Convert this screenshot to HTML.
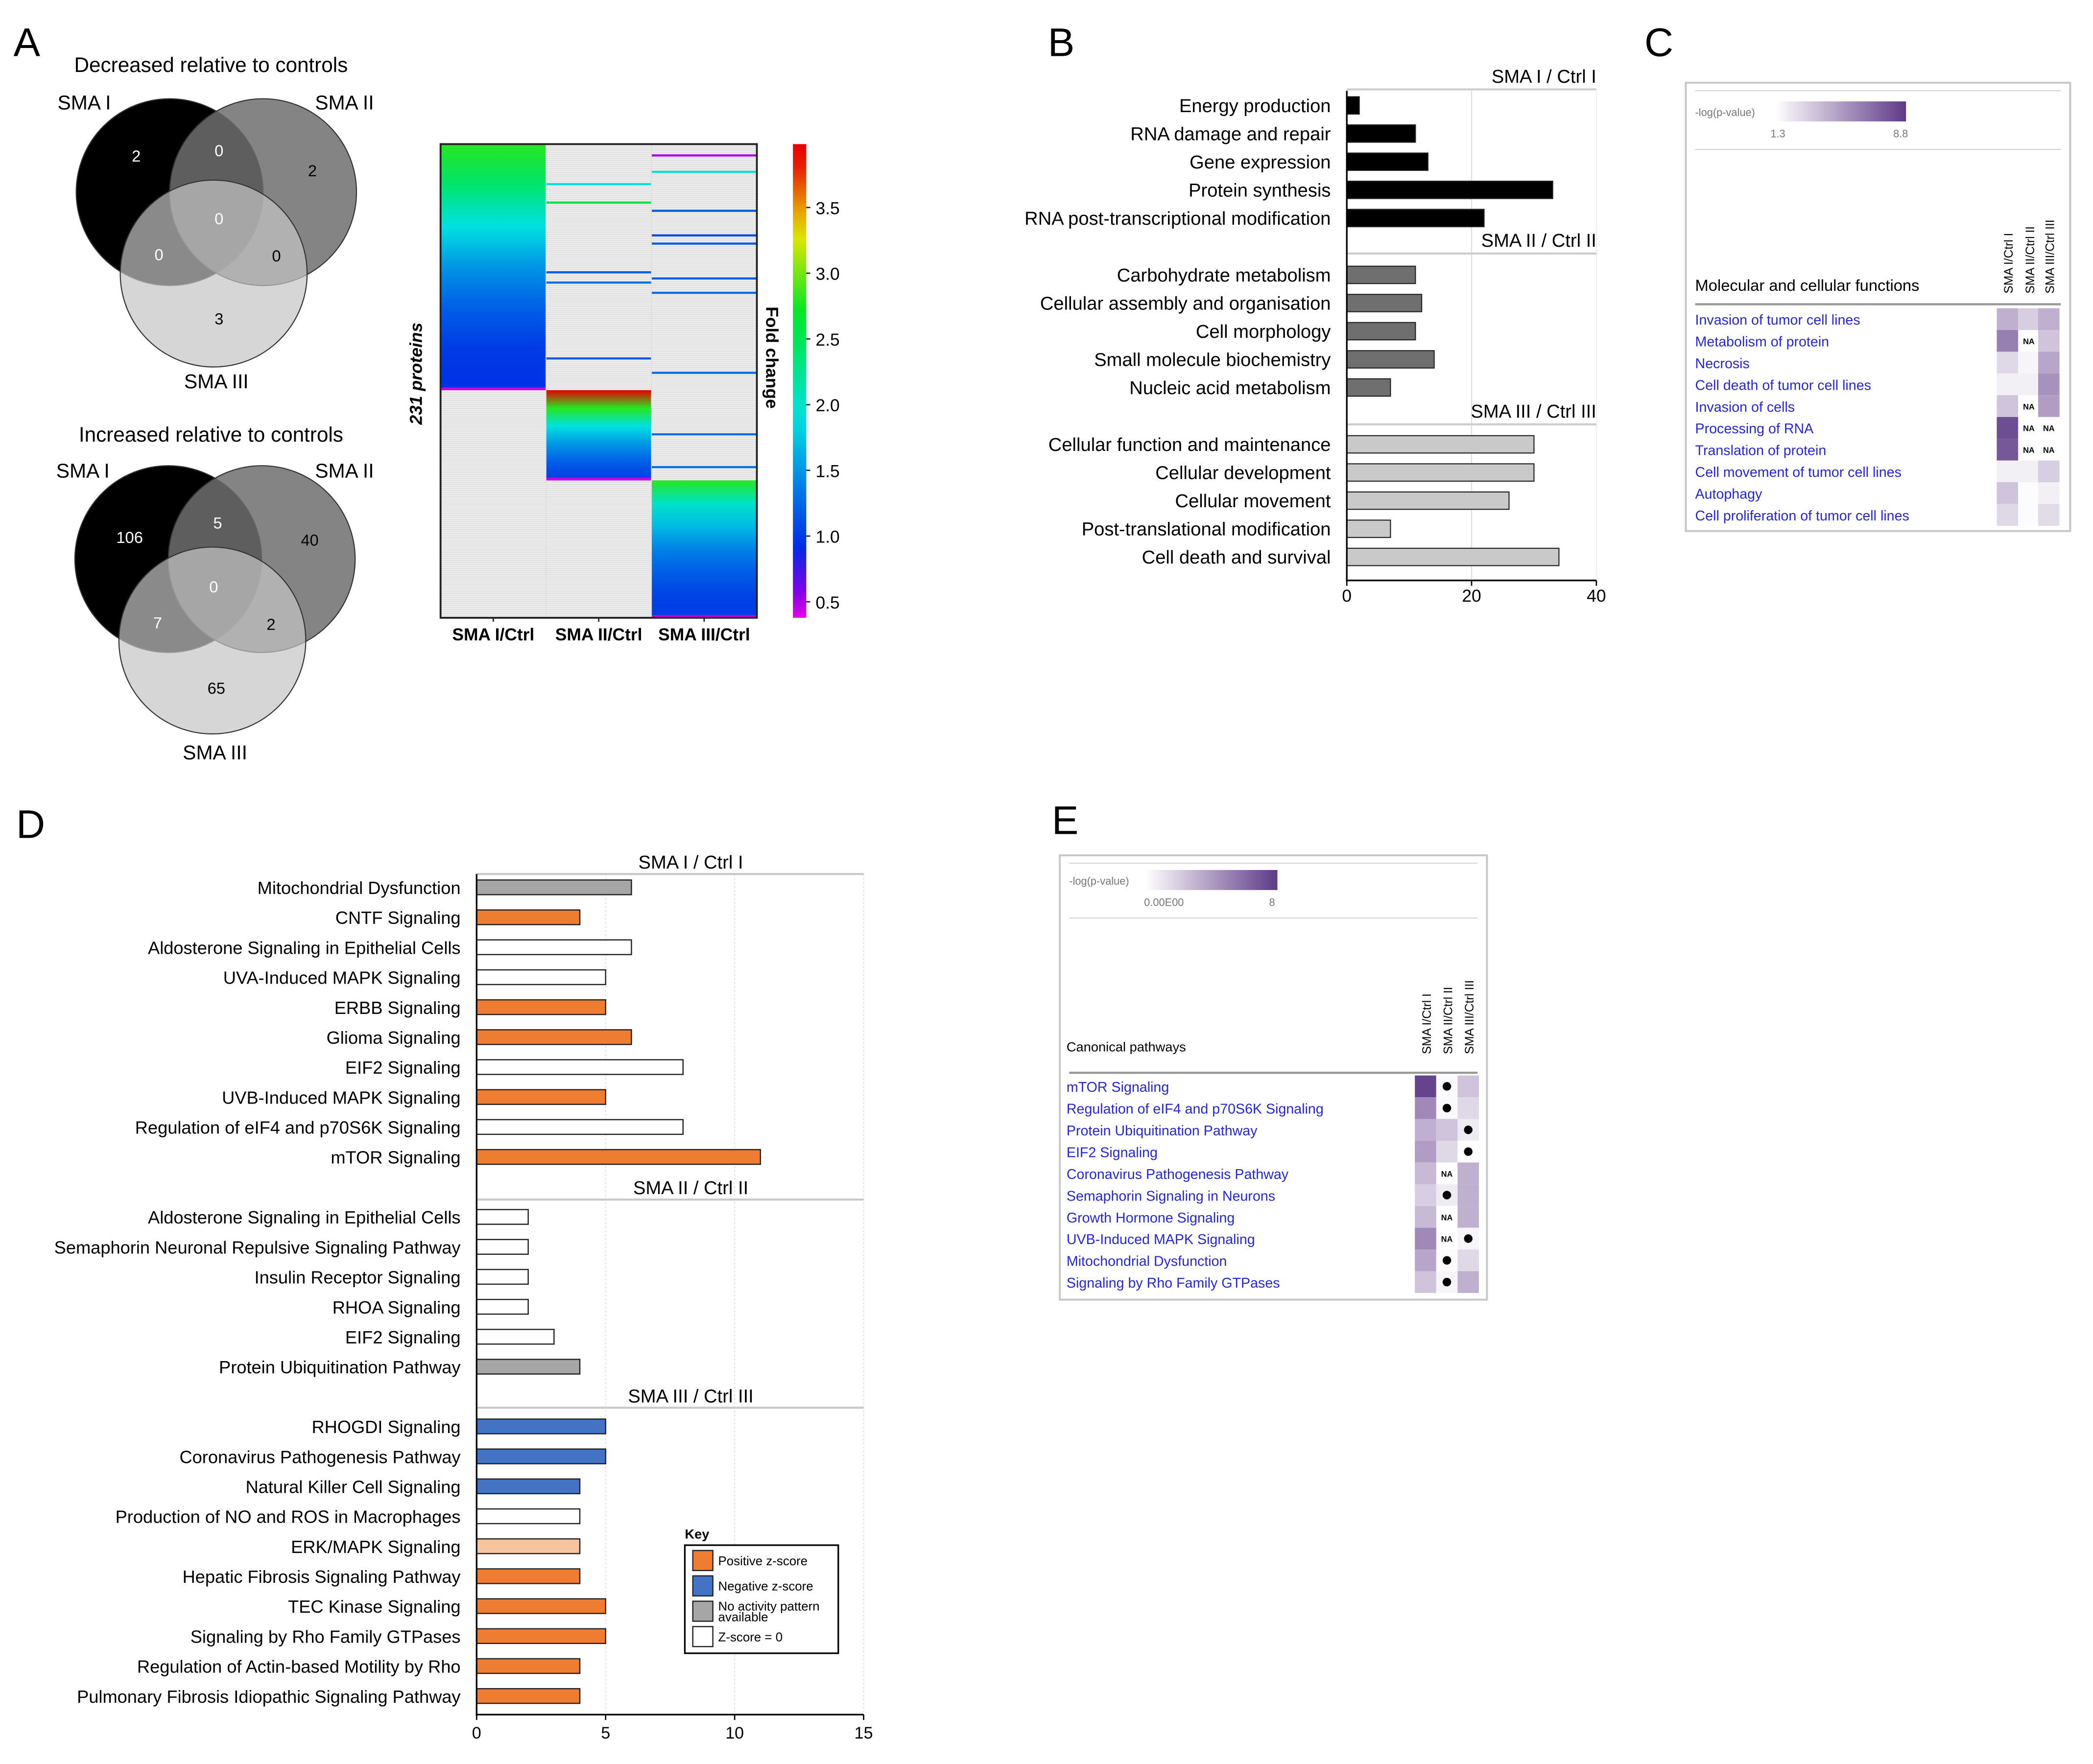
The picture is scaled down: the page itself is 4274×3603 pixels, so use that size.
<!DOCTYPE html>
<html><head><meta charset="utf-8">
<style>
html,body{margin:0;padding:0;background:#fff;}
svg{display:block;font-family:"Liberation Sans",Arial,sans-serif;}
</style></head>
<body>
<svg id="fig" width="4274" height="3603" viewBox="0 0 1568 1322" xmlns="http://www.w3.org/2000/svg">
<defs>
<linearGradient id="purpC" x1="0" x2="1" y1="0" y2="0"><stop offset="0" stop-color="#ffffff"/><stop offset="1" stop-color="#5e3a87"/></linearGradient>
</defs>
<g id="root"></g>
</svg>
<script>
// ---------- DATA ----------
// Panel A venn
const vennDecLabels = ["2","0","2","0","0","0","3"];
const vennIncLabels = ["106","5","40","0","7","2","65"];
// Panel A heatmap: colored blocks [column, startRow, endRow] with fold-change stops
const heatRows = 231;
const heatBlockCols = [0, 1, 2];
const heatBlockStart = [0, 120, 164];
const heatBlockEnd = [120, 164, 231];
const heatBlockStops = [[2.8, 2.4, 1.9, 1.5, 1.2, 1.0, 0.95], [3.9, 2.8, 1.9, 1.5, 1.2, 1.0], [2.8, 2.0, 1.7, 1.4, 1.2, 1.05, 1.0]];
// scattered single rows [column,row,value]
const heatLineCol = [1,1,1,1,1, 2,2,2,2,2,2,2,2,2,2];
const heatLineRow = [19,28,62,67,104, 5,13,32,44,48,65,72,111,141,157];
const heatLineVal = [1.9,2.6,1.2,1.3,1.2, 0.5,2.0,1.2,1.1,1.2,1.2,1.3,1.3,1.3,1.3];
const cbTicks = [0.5,1.0,1.5,2.0,2.5,3.0,3.5];
// Panel B
const bCats = [["Energy production","RNA damage and repair","Gene expression","Protein synthesis","RNA post-transcriptional modification"],
 ["Carbohydrate metabolism","Cellular assembly and organisation","Cell morphology","Small molecule biochemistry","Nucleic acid metabolism"],
 ["Cellular function and maintenance","Cellular development","Cellular movement","Post-translational modification","Cell death and survival"]];
const bVals1 = [2,11,13,33,22];
const bVals2 = [11,12,11,14,7];
const bVals3 = [30,30,26,7,34];
const bGroups = ["SMA I / Ctrl I","SMA II / Ctrl II","SMA III / Ctrl III"];
const bTicks = [0,20,40];
// Panel C
const cRows = ["Invasion of tumor cell lines","Metabolism of protein","Necrosis","Cell death of tumor cell lines","Invasion of cells","Processing of RNA","Translation of protein","Cell movement of tumor cell lines","Autophagy","Cell proliferation of tumor cell lines"];
const cCol1 = [0.4,0.65,0.2,0.08,0.3,0.9,0.85,0.08,0.3,0.2];
const cCol2 = [0.25,"NA",0.05,0.08,"NA","NA","NA",0.08,0.02,0.02];
const cCol3 = [0.4,0.3,0.45,0.55,0.5,"NA","NA",0.25,0.08,0.18];
const cHeads = ["SMA I/Ctrl I","SMA II/Ctrl II","SMA III/Ctrl III"];
// Panel D
const dCats1 = ["Mitochondrial Dysfunction","CNTF Signaling","Aldosterone Signaling in Epithelial Cells","UVA-Induced MAPK Signaling","ERBB Signaling","Glioma Signaling","EIF2 Signaling","UVB-Induced MAPK Signaling","Regulation of eIF4 and p70S6K Signaling","mTOR Signaling"];
const dVals1 = [6,4,6,5,5,6,8,5,8,11];
const dType1 = ["g","o","w","w","o","o","w","o","w","o"];
const dCats2 = ["Aldosterone Signaling in Epithelial Cells","Semaphorin Neuronal Repulsive Signaling Pathway","Insulin Receptor Signaling","RHOA Signaling","EIF2 Signaling","Protein Ubiquitination Pathway"];
const dVals2 = [2,2,2,2,3,4];
const dType2 = ["w","w","w","w","w","g"];
const dCats3 = ["RHOGDI Signaling","Coronavirus Pathogenesis Pathway","Natural Killer Cell Signaling","Production of NO and ROS in Macrophages","ERK/MAPK Signaling","Hepatic Fibrosis Signaling Pathway","TEC Kinase Signaling","Signaling by Rho Family GTPases","Regulation of Actin-based Motility by Rho","Pulmonary Fibrosis Idiopathic Signaling Pathway"];
const dVals3 = [5,5,4,4,4,4,5,5,4,4];
const dType3 = ["b","b","b","w","lo","o","o","o","o","o"];
const dTicks = [0,5,10,15];
// Panel E
const eRows = ["mTOR Signaling","Regulation of eIF4 and p70S6K Signaling","Protein Ubiquitination Pathway","EIF2 Signaling","Coronavirus Pathogenesis Pathway","Semaphorin Signaling in Neurons","Growth Hormone Signaling","UVB-Induced MAPK Signaling","Mitochondrial Dysfunction","Signaling by Rho Family GTPases"];
const eCol1 = [0.95,0.6,0.4,0.5,0.35,0.25,0.35,0.6,0.45,0.3];
const eCol2 = ["d0.03","d0.03",0.3,0.2,"NA","d0.1","NA","NA","d0.02","d0.05"];
const eCol3 = [0.3,0.2,"d0.1","d0",0.4,0.4,0.4,"d0.05",0.2,0.4];

// ---------- HELPERS ----------
const NS="http://www.w3.org/2000/svg";
const root=document.getElementById('root');
function el(tag,attrs,parent,text){const e=document.createElementNS(NS,tag);for(const k in attrs)e.setAttribute(k,attrs[k]);if(text!==undefined)e.textContent=text;(parent||root).appendChild(e);return e;}
function grp(name,parent){const g=el('g',{},parent);


return g;}
function txt(parent,x,y,s,size,opts,name){const a=Object.assign({x:x,y:y,'font-size':size,fill:'#000'},opts||{});const t=el('text',a,parent,s);


return t;}

function fcColor(v){
 const stops=[[0.4,[230,0,230]],[0.55,[140,0,230]],[0.9,[0,40,230]],[1.4,[0,130,230]],[1.9,[0,225,225]],[2.7,[0,230,40]],[3.3,[230,230,0]],[3.9,[230,0,0]]];
 if(v<=stops[0][0])return 'rgb('+stops[0][1]+')';
 for(let i=1;i<stops.length;i++){if(v<=stops[i][0]){const t=(v-stops[i-1][0])/(stops[i][0]-stops[i-1][0]);const a=stops[i-1][1],b=stops[i][1];return 'rgb('+a.map((c,j)=>Math.round(c+(b[j]-c)*t)).join(',')+')';}}
 return 'rgb('+stops[stops.length-1][1]+')';
}
function purp(v){const a=[255,255,255],b=[94,58,135];return 'rgb('+a.map((c,j)=>Math.round(c+(b[j]-c)*v)).join(',')+')';}

[["A",10,42],["B",785,42],["C",1232,42],["D",12,628],["E",788,625]].forEach(p=>{txt(root,p[1],p[2],p[0],30,{},'panel-letter-'+p[0].toLowerCase());});

// ---------- PANEL A: Venn ----------
function venn(name,title,ty,circ,labels,names,nums){
 const g=grp(name);
 txt(g,158,ty,title,15.5,{'text-anchor':'middle'},'venn-title');
 const fills=['#000','#6e6e6e','#c4c4c4'];
 const ops=[1,0.85,0.7];
 circ.forEach((c,i)=>{const ci=el('circle',{cx:c[0],cy:c[1],r:c[2],fill:fills[i],'fill-opacity':ops[i],stroke:'#333','stroke-width':0.8},g);
 
 });
 names.forEach(n=>txt(g,n[0],n[1],n[2],15,{'text-anchor':'middle'},'venn-set-label'));
 nums.forEach((p,i)=>txt(g,p[0],p[1],labels[i],12,{'text-anchor':'middle',fill:(i==6||i==2||i==5?'#000':'#fff')},'venn-count'));
}
venn('venn-decreased','Decreased relative to controls',54,[[127,144,70],[197,144,70],[160,205,70]],vennDecLabels,
 [[63,82,'SMA I'],[258,82,'SMA II'],[162,291,'SMA III']],
 [[102,121],[164,117],[234,132],[164,168],[119,195],[207,196],[164,243]]);
venn('venn-increased','Increased relative to controls',331,[[126,419,70],[196,419,70],[159,480,70]],vennIncLabels,
 [[62,358,'SMA I'],[258,358,'SMA II'],[161,569,'SMA III']],
 [[97,407],[163,396],[232,409],[160,444],[118,471],[203,472],[162,520]]);

// ---------- PANEL A: heatmap ----------
(function(){
 const g=grp('fold-change-heatmap');
 const x0=330,x1=567,y0=108,y1=463,cw=(x1-x0)/3,rh=(y1-y0)/heatRows;
 el('rect',{x:x0,y:y0,width:x1-x0,height:y1-y0,fill:'#ececec'},g);
 for(let r=0;r<heatRows;r+=1){el('line',{x1:x0,x2:x1,y1:y0+r*rh,y2:y0+r*rh,stroke:'#d6d6d6','stroke-width':0.35},g);}
 heatBlockCols.forEach((c,i)=>{
  const id='hg'+i;const lg=el('linearGradient',{id:id,x1:0,x2:0,y1:0,y2:1},document.querySelector('defs'));
  const st=heatBlockStops[i];st.forEach((v,k)=>el('stop',{offset:k/(st.length-1),'stop-color':fcColor(v)},lg));
  const ys=y0+heatBlockStart[i]*rh,ye=y0+heatBlockEnd[i]*rh;
  const r=el('rect',{x:x0+c*cw,y:ys,width:cw,height:ye-ys,fill:'url(#'+id+')'},g);
  
  
  const b=el('rect',{x:x0+c*cw,y:ye-2,width:cw,height:2,fill:fcColor(0.45)},g);
  
  
 });
 heatLineCol.forEach((c,i)=>{const r=el('rect',{x:x0+c*cw,y:y0+heatLineRow[i]*rh,width:cw,height:1.6,fill:fcColor(heatLineVal[i])},g);
  
  });
 el('line',{x1:x0+cw,x2:x0+cw,y1:y0,y2:y1,stroke:'#ddd','stroke-width':0.6},g);
 el('line',{x1:x0+2*cw,x2:x0+2*cw,y1:y0,y2:y1,stroke:'#ddd','stroke-width':0.6},g);
 el('rect',{x:x0,y:y0,width:x1-x0,height:y1-y0,fill:'none',stroke:'#222','stroke-width':1.4},g);
 ["SMA I/Ctrl","SMA II/Ctrl","SMA III/Ctrl"].forEach((s,i)=>{el('line',{x1:x0+cw*(i+0.5),x2:x0+cw*(i+0.5),y1:y1,y2:y1+3,stroke:'#222'},g);txt(g,x0+cw*(i+0.5),480,s,13,{'text-anchor':'middle','font-weight':'bold'},'heatmap-x-label');});
 txt(g,316,280,'231 proteins',13,{'text-anchor':'middle','font-weight':'bold','font-style':'italic',transform:'rotate(-90 316 280)'},'heatmap-y-title');
 txt(g,574,268,'Fold change',13,{'text-anchor':'middle','font-weight':'bold',transform:'rotate(90 574 268)'},'colorbar-title');
 const cbg=el('linearGradient',{id:'cbg',x1:0,x2:0,y1:1,y2:0},document.querySelector('defs'));
 const vy=v=>451-(v-0.5)*98.5;
 for(let k=0;k<=20;k++){const v=0.38+k*(3.99-0.38)/20;el('stop',{offset:k/20,'stop-color':fcColor(v)},cbg);}
 const cb=el('rect',{x:594,y:108,width:10,height:355,fill:'url(#cbg)'},g);
 
 
 cbTicks.forEach(v=>{el('line',{x1:604,x2:607,y1:vy(v),y2:vy(v),stroke:'#222'},g);txt(g,611,vy(v)+5,v.toFixed(1),13,{},'colorbar-tick');});
})();

// ---------- PANEL B ----------
(function(){
 const g=grp('panel-b-bar-chart');
 const x0=1009,sx=(1196-1009)/40;const xv=v=>x0+v*sx;
 const groups=[bVals1,bVals2,bVals3],fills=['#000','#6f6f6f','#c9c9c9'];
 const headY=[62,185,313],rowStart=[79,206,333],rs=21.1;
 el('line',{x1:xv(20),x2:xv(20),y1:68,y2:435,stroke:'#ddd','stroke-width':0.8},g);
 el('line',{x1:xv(40),x2:xv(40),y1:68,y2:435,stroke:'#eee','stroke-width':0.8},g);
 groups.forEach((vals,gi)=>{
  txt(g,1196,headY[gi],bGroups[gi],14,{'text-anchor':'end'},'group-header');
  el('line',{x1:x0,x2:1196,y1:headY[gi]+5,y2:headY[gi]+5,stroke:'#ccc','stroke-width':1.5},g);
  vals.forEach((v,i)=>{const y=rowStart[gi]+i*rs;
   const r=el('rect',{x:x0,y:y-6.5,width:xv(v)-x0,height:13,fill:fills[gi],stroke:'#222','stroke-width':0.8},g);
   
   
   txt(g,997,y+5,bCats[gi][i],14,{'text-anchor':'end'},'category-label');});
 });
 el('line',{x1:x0,x2:x0,y1:68,y2:436,stroke:'#000','stroke-width':1.2},g);
 el('line',{x1:x0,x2:1196,y1:435,y2:435,stroke:'#000','stroke-width':1.2},g);
 bTicks.forEach(t=>{el('line',{x1:xv(t),x2:xv(t),y1:435,y2:439,stroke:'#000'},g);txt(g,xv(t),451,String(t),13,{'text-anchor':'middle'},'x-tick-label');});
})();

// ---------- heat table (C & E) ----------
function heatTable(name,box,leg,title,titleY,lineY,rows,cols,heads,colX,cw,rowY0,rh,labelX){
 const g=grp(name);
 el('rect',{x:box[0],y:box[1],width:box[2],height:box[3],fill:'#fff',stroke:'#c8c8c8','stroke-width':1.5},g);
 el('line',{x1:box[0]+7,x2:box[0]+box[2]-7,y1:box[1]+6,y2:box[1]+6,stroke:'#d5d5d5','stroke-width':0.8},g);
 txt(g,box[0]+7,leg.y+11,'-log(p-value)',8,{fill:'#777'},'legend-title');
 const lr=el('rect',{x:leg.x,y:leg.y,width:leg.w,height:15,fill:'url(#purpC)'},g);
 
 
 txt(g,leg.x+leg.l1x,leg.y+27,leg.l1,8,{fill:'#777','text-anchor':'middle'},'legend-min');
 txt(g,leg.x+leg.w-4,leg.y+27,leg.l2,8,{fill:'#777','text-anchor':'middle'},'legend-max');
 el('line',{x1:box[0]+7,x2:box[0]+box[2]-7,y1:leg.y+36,y2:leg.y+36,stroke:'#d5d5d5','stroke-width':0.8},g);
 txt(g,labelX,titleY,title,title.length>25?12:10,{},'table-title');
 heads.forEach((h,i)=>{const x=colX[i]+cw/2+4;txt(g,x,titleY+2,h,9,{transform:'rotate(-90 '+x+' '+(titleY+2)+')'},'column-header');});
 el('line',{x1:box[0]+7,x2:box[0]+box[2]-7,y1:lineY,y2:lineY,stroke:'#999','stroke-width':1.6},g);
 rows.forEach((r,i)=>{const y=rowY0+i*rh;
  const t=txt(g,labelX,y+rh-4,r,10.5,{fill:'#2626d9'},'row-link');
  
  cols.forEach((col,j)=>{let v=col[i];let dot=false;
   if(v==="NA"){txt(g,colX[j]+cw/2,y+rh/2+2.5,'NA',6,{'text-anchor':'middle','font-weight':'bold'},'na-label');return;}
   if(typeof v==='string'&&v[0]==='d'){dot=true;v=parseFloat(v.slice(1));}
   const c=el('rect',{x:colX[j],y:y,width:cw,height:rh,fill:purp(v)},g);
   
   
   if(dot){const d=el('circle',{cx:colX[j]+cw/2,cy:y+rh/2,r:3.2,fill:'#000'},g);
    
    }
  });
 });
}
heatTable('panel-c-functions-table',[1263,62,288,336],{x:1330,y:76,w:98,l1:'1.3',l1x:2,l2:'8.8'},
 'Molecular and cellular functions',218,228,cRows,[cCol1,cCol2,cCol3],cHeads,[1496,1512,1527],16,231,16.3,1270);
heatTable('panel-e-pathways-table',[794,641,320,333],{x:858,y:652,w:99,l1:'0.00E00',l1x:14,l2:'8'},
 'Canonical pathways',788,804,eRows,[eCol1,eCol2,eCol3],cHeads,[1060,1076,1092],16,806,16.3,799);

// ---------- PANEL D ----------
(function(){
 const g=grp('panel-d-bar-chart');
 const x0=357,sx=(647-357)/15;const xv=v=>x0+v*sx;
 const fillMap={o:'#ee7d31',b:'#4472c4',g:'#a6a6a6',w:'#fff',lo:'#f7c4a0'};
 [5,10,15].forEach(t=>el('line',{x1:xv(t),x2:xv(t),y1:655,y2:1285,stroke:'#e4e4e4','stroke-width':0.8,'stroke-dasharray':'1.5 1.5'},g));
 const cats=[dCats1,dCats2,dCats3],vals=[dVals1,dVals2,dVals3],types=[dType1,dType2,dType3];
 const heads=["SMA I / Ctrl I","SMA II / Ctrl II","SMA III / Ctrl III"],headY=[651,895,1051],start=[665,912,1069],rs=22.45;
 cats.forEach((cs,gi)=>{
  txt(g,xv(8.3),headY[gi],heads[gi],14,{'text-anchor':'middle'},'group-header');
  el('line',{x1:x0,x2:647,y1:headY[gi]+4,y2:headY[gi]+4,stroke:'#c8c8c8','stroke-width':1.5},g);
  cs.forEach((c,i)=>{const y=start[gi]+i*rs;
   const r=el('rect',{x:x0,y:y-5.5,width:xv(vals[gi][i])-x0,height:11,fill:fillMap[types[gi][i]],stroke:'#222','stroke-width':0.9},g);
   
   
   txt(g,345,y+5,c,13.3,{'text-anchor':'end'},'category-label');});
 });
 el('line',{x1:x0,x2:x0,y1:655,y2:1286,stroke:'#000','stroke-width':1.2},g);
 el('line',{x1:x0,x2:647,y1:1285,y2:1285,stroke:'#000','stroke-width':1.2},g);
 dTicks.forEach(t=>{el('line',{x1:xv(t),x2:xv(t),y1:1285,y2:1289,stroke:'#000'},g);txt(g,xv(t),1303,String(t),12.5,{'text-anchor':'middle'},'x-tick-label');});
 const k=grp('legend-key',g);
 txt(k,513,1153,'Key',10,{'font-weight':'bold'},'legend-title');
 el('rect',{x:513,y:1158,width:115,height:81,fill:'#fff',stroke:'#000','stroke-width':1.2},k);
 [['o','Positive z-score'],['b','Negative z-score'],['g','No activity pattern'],['w','Z-score = 0']].forEach((e,i)=>{
  const y=1162+i*19;
  const s=el('rect',{x:519,y:y,width:15,height:15,fill:fillMap[e[0]],stroke:'#222','stroke-width':0.9},k);
  
  
  txt(k,538,y+(i==2?7:11),e[1],9.5,{},'legend-entry');
  if(i==2)txt(k,538,y+15,'available',9.5,{},'legend-entry');
 });
})();
</script>
</body></html>
